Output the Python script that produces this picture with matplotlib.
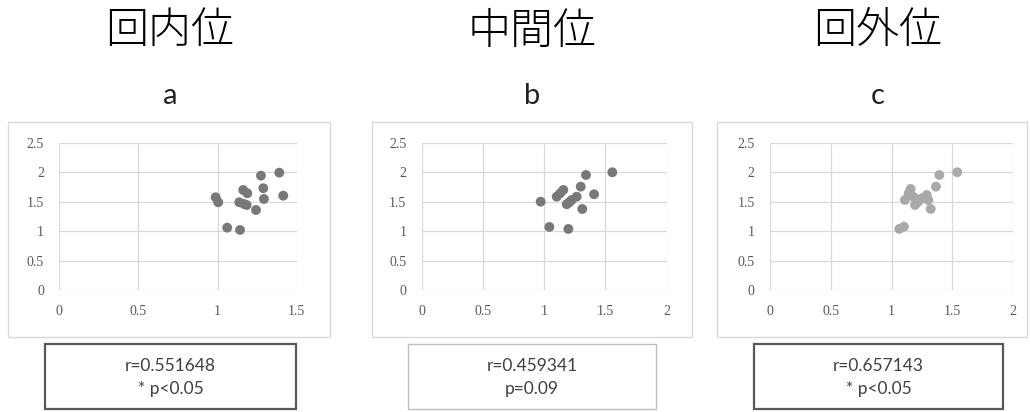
import numpy as np
import matplotlib
matplotlib.use("Agg")
import matplotlib.pyplot as plt
from matplotlib.patches import Rectangle

# Data
titles = ["回内位", "中間位", "回外位"]
letters = ["a", "b", "c"]
stats = [("r=0.551648", "* p<0.05"), ("r=0.459341", "p=0.09"), ("r=0.657143", "* p<0.05")]
xmax = [1.5, 2.0, 2.0]

xa = [0.988, 1.004, 1.061, 1.142, 1.137, 1.162, 1.188, 1.184, 1.167, 1.243, 1.274, 1.289, 1.293, 1.390, 1.415]
ya = [1.574, 1.489, 1.058, 1.019, 1.489, 1.698, 1.642, 1.443, 1.460, 1.358, 1.941, 1.727, 1.545, 1.992, 1.601]

xb = [0.971, 1.042, 1.197, 1.102, 1.130, 1.156, 1.184, 1.205, 1.224, 1.265, 1.298, 1.311, 1.341, 1.407, 1.556]
yb = [1.499, 1.070, 1.036, 1.584, 1.640, 1.698, 1.455, 1.490, 1.528, 1.584, 1.754, 1.375, 1.952, 1.625, 1.998]

xc = [1.063, 1.101, 1.109, 1.156, 1.178, 1.192, 1.219, 1.247, 1.288, 1.301, 1.321, 1.364, 1.392, 1.539, 1.140]
yc = [1.036, 1.075, 1.528, 1.715, 1.584, 1.443, 1.499, 1.557, 1.613, 1.528, 1.375, 1.754, 1.952, 1.998, 1.640]

xs = [xa, xb, xc]
ys = [ya, yb, yc]
dot_colors = ["#787878", "#787878", "#a9a9a9"]

W, H = 1030, 412
fig = plt.figure(figsize=(W / 100, H / 100), dpi=100)


def fr(x0, y0, x1, y1):
    # pixel box -> figure fraction rect
    return [x0 / W, 1 - y1 / H, (x1 - x0) / W, (y1 - y0) / H]


axes_px = [(59.3, 142.7, 296.7, 290), (421.7, 142.7, 666.7, 290), (770, 142.7, 1013.3, 290)]
frames_px = [(8, 122, 330, 337), (372, 122, 692, 337), (717, 122, 1027, 337)]
boxes_px = [(45, 344, 296, 409), (408, 344, 656, 409), (754, 344, 1003, 409)]
box_styles = [("#595959", 1.6), ("#bfbfbf", 1.0), ("#595959", 1.6)]
centers = [170, 532, 878]

for i in range(3):
    # outer frame
    x0, y0, x1, y1 = frames_px[i]
    fig.patches.append(Rectangle((x0 / W, 1 - y1 / H), (x1 - x0) / W, (y1 - y0) / H,
                                 transform=fig.transFigure, fill=False,
                                 edgecolor="#d9d9d9", lw=1.0))
    # stats box
    x0, y0, x1, y1 = boxes_px[i]
    ec, lw = box_styles[i]
    fig.patches.append(Rectangle((x0 / W, 1 - y1 / H), (x1 - x0) / W, (y1 - y0) / H,
                                 transform=fig.transFigure, fill=False,
                                 edgecolor=ec, lw=lw))
    cx = (x0 + x1) / 2 / W
    fig.text(cx, 1 - 366 / H, stats[i][0], ha="center", va="center",
             fontsize=12.5, family="Lato", color="#404040")
    fig.text(cx, 1 - 389 / H, stats[i][1], ha="center", va="center",
             fontsize=12.5, family="Lato", color="#404040")

    fig.text(centers[i] / W, 1 - 31 / H, titles[i], ha="center", va="center",
             fontsize=31, family=["Noto Sans CJK JP", "DejaVu Sans"],
             fontweight="light", color="black")
    fig.text(centers[i] / W, 1 - 96 / H, letters[i], ha="center", va="center",
             fontsize=21, family="Lato", color="#222222")

    ax = fig.add_axes(fr(*axes_px[i]))
    ax.scatter(xs[i], ys[i], s=50, color=dot_colors[i], edgecolors="none", zorder=3)
    ax.set_xlim(0, xmax[i])
    ax.set_ylim(0, 2.5)
    ax.set_xticks(np.arange(0, xmax[i] + 0.01, 0.5))
    ax.set_yticks(np.arange(0, 2.51, 0.5))
    ax.set_xticklabels([f"{v:g}" for v in np.arange(0, xmax[i] + 0.01, 0.5)])
    ax.set_yticklabels([f"{v:g}" for v in np.arange(0, 2.51, 0.5)])
    ax.grid(True, color="#d9d9d9", lw=0.9)
    ax.set_axisbelow(True)
    for sp in ax.spines.values():
        sp.set_visible(False)
    ax.tick_params(length=0, labelsize=10, labelcolor="#595959", pad=11)
    for lab in ax.get_xticklabels() + ax.get_yticklabels():
        lab.set_family("Liberation Serif")

fig.savefig("out.png", dpi=100)
